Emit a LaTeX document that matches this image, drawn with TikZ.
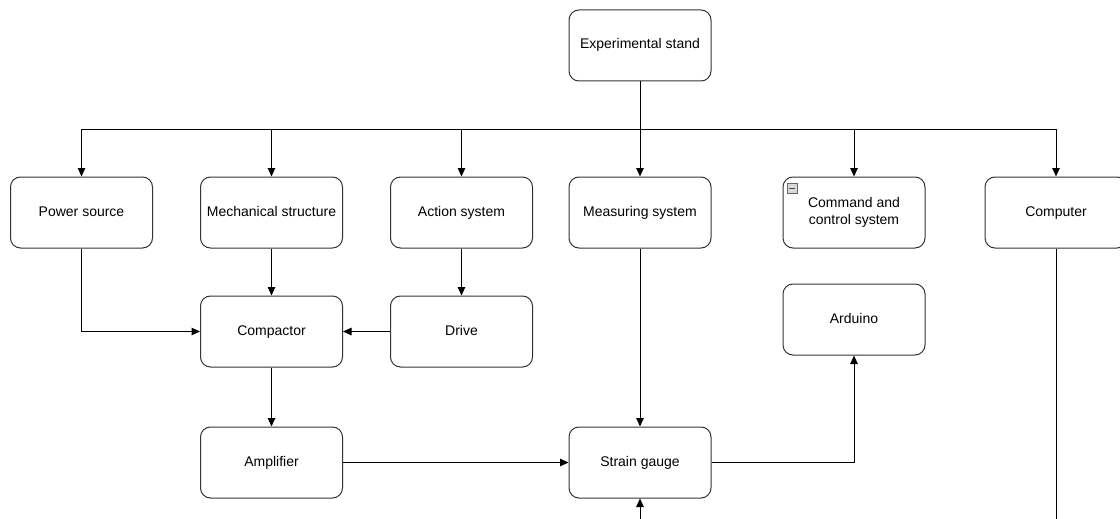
\documentclass[tikz,border=0pt]{standalone}
\usepackage{fontspec}
\setmainfont{Liberation Sans}
\usetikzlibrary{arrows.meta}
\tikzset{
  blockbox/.style={draw=black!80, rounded corners=10pt, minimum width=142pt, minimum height=71pt,
    align=center, inner sep=2pt, line width=1pt, font=\fontsize{14}{17.5}\selectfont},
  oneline/.style={text height=10pt, text depth=3pt},
  link/.style={-{Triangle[length=8.5pt,width=7.5pt]}, line width=1pt},
  wire/.style={line width=1pt},
}
\begin{document}
\begin{tikzpicture}[x=1pt, y=-1pt]
  \useasboundingbox (0,0) rectangle (1120,519);
  % top
  \node[blockbox, oneline] (stand) at (640,45.5) {Experimental stand};
  % first row
  \node[blockbox, oneline] (power) at (81.5,212.5) {Power source};
  \node[blockbox, oneline] (mech) at (271.5,212.5) {Mechanical structure};
  \node[blockbox, oneline] (action) at (461.5,212.5) {Action system};
  \node[blockbox, oneline] (measure) at (640,212.5) {Measuring system};
  \node[blockbox] (command) at (854,212.5) {Command and\\control system};
  \node[blockbox, oneline] (computer) at (1056,212.5) {Computer};
  % lower rows
  \node[blockbox, oneline] (compactor) at (271.5,331.5) {Compactor};
  \node[blockbox, oneline] (drive) at (461.5,331.5) {Drive};
  \node[blockbox, oneline] (arduino) at (854,319.5) {Arduino};
  \node[blockbox, oneline] (amplifier) at (271.5,462.5) {Amplifier};
  \node[blockbox, oneline] (gauge) at (640,462.5) {Strain gauge};
  % collapse icon
  \draw[black!60, fill=black!15, line width=0.8pt] (787,183) rectangle (797,193);
  \draw[black!70, line width=1pt] (789,188) -- (795,188);
  % bus
  \coordinate (bus) at (640,129);
  \draw[wire] (power.north |- bus) -- (computer.north |- bus);
  \draw[link] (stand) -- (measure);
  \draw[link] (power.north |- bus) -- (power);
  \draw[link] (mech.north |- bus) -- (mech);
  \draw[link] (action.north |- bus) -- (action);
  \draw[link] (command.north |- bus) -- (command);
  \draw[link] (computer.north |- bus) -- (computer);
  % connections
  \draw[link] (power) |- (compactor);
  \draw[link] (mech) -- (compactor);
  \draw[link] (action) -- (drive);
  \draw[link] (drive) -- (compactor);
  \draw[link] (compactor) -- (amplifier);
  \draw[link] (amplifier) -- (gauge);
  \draw[link] (measure) -- (gauge);
  \draw[link] (gauge) -| (arduino);
  \coordinate (compEnd) at (1056,519);
  \draw[wire] (computer) -- (compEnd);
  \coordinate (gaugeIn) at (640,519);
  \draw[link] (gaugeIn) -- (gauge);
\end{tikzpicture}
\end{document}
